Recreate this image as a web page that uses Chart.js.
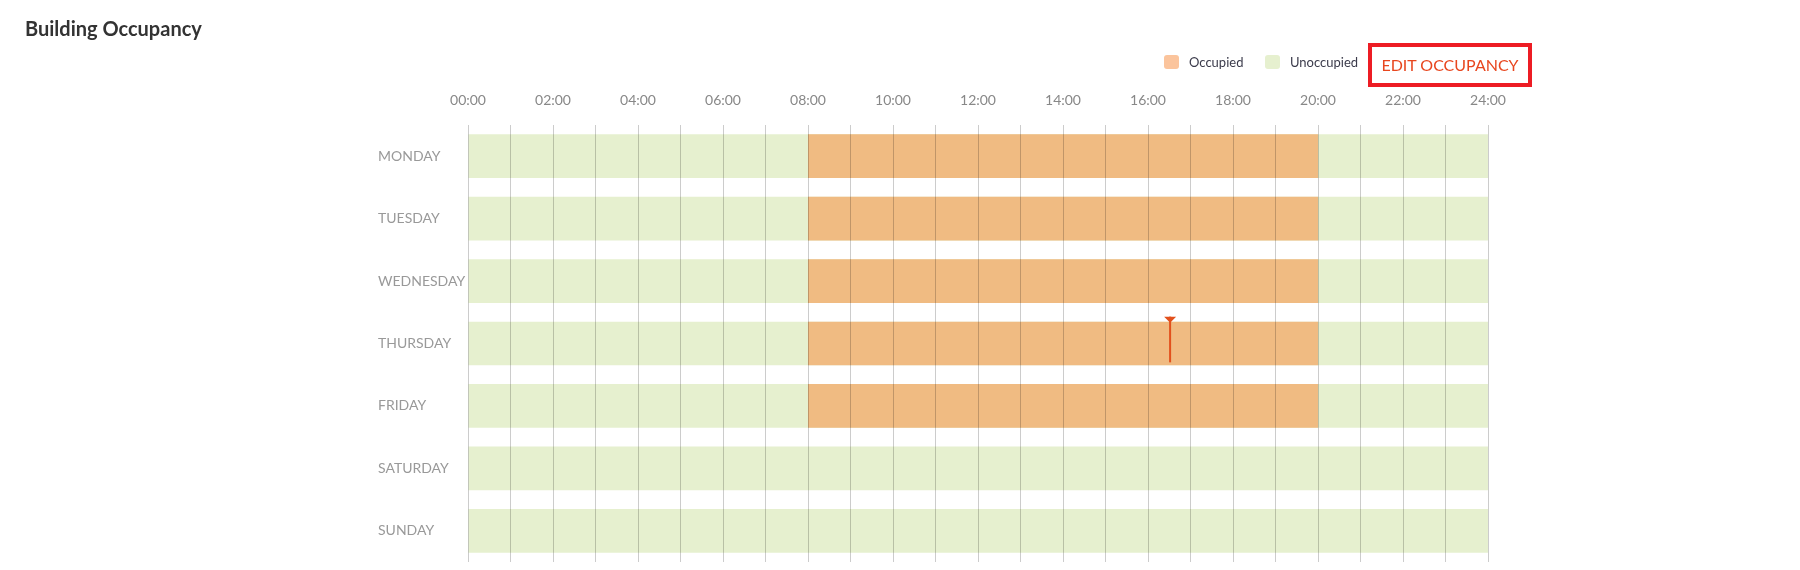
<!DOCTYPE html>
<html>
<head>
<meta charset="utf-8">
<script src="https://cdn.jsdelivr.net/npm/chart.js@4/dist/chart.umd.min.js"></script>
<style>
  body { margin: 0; background: #fff; font-family: Lato, "Open Sans", sans-serif; }
  #wrap { position: relative; width: 1800px; height: 570px; }
  #chart { position: absolute; left: 0; top: 0; }
  .title { position: absolute; left: 25px; top: 18px; font-size: 20px; line-height: 1; font-weight: bold; color: #333; }
  .legend { position: absolute; top: 55px; font-size: 13px; line-height: 14px; color: #3b3b4b; }
  .legend span.sw { display: inline-block; width: 15px; height: 14px; border-radius: 3px; vertical-align: top; margin-right: 10px; }
  .btn { position: absolute; left: 1368px; top: 43px; width: 156px; height: 36px; border: 4px solid #ed1c24;
         color: #e8461e; font-size: 16px; line-height: 36px; text-align: center; }
</style>
</head>
<body>
<div id="wrap">
  <canvas id="chart" width="1800" height="570"></canvas>
  <div class="title">Building Occupancy</div>
  <div class="legend" style="left:1164px"><span class="sw" style="background:#fbc49c"></span>Occupied</div>
  <div class="legend" style="left:1265px"><span class="sw" style="background:#e6f0cf"></span>Unoccupied</div>
  <div class="btn">EDIT OCCUPANCY</div>
</div>
<script>
// rows and schedule
const days = ['MONDAY', 'TUESDAY', 'WEDNESDAY', 'THURSDAY', 'FRIDAY', 'SATURDAY', 'SUNDAY'];
const occupied = [[8, 20], [8, 20], [8, 20], [8, 20], [8, 20], null, null];
const unoccupied = [[0, 24], [0, 24], [0, 24], [0, 24], [0, 24], [0, 24], [0, 24]];
const hourTicks = [0, 2, 4, 6, 8, 10, 12, 14, 16, 18, 20, 22, 24];
// current time marker
const nowDay = 'THURSDAY';
const nowHour = 16.52;

const pad = (n) => (n < 10 ? '0' : '') + n;

// draws the little "now" marker on top of the bars
const nowMarker = {
  id: 'nowMarker',
  afterDraw(chart) {
    const ctx = chart.ctx;
    const x = chart.scales.x.getPixelForValue(nowHour);
    const idx = days.indexOf(nowDay);
    const meta = chart.getDatasetMeta(0);
    const bar = meta.data[idx];
    const half = bar.height / 2;
    const top = bar.y - half - 5;
    const bottom = bar.y + half - 3;
    ctx.save();
    ctx.strokeStyle = '#e2501c';
    ctx.fillStyle = '#e2501c';
    ctx.lineWidth = 2;
    ctx.beginPath();
    ctx.moveTo(x, top);
    ctx.lineTo(x, bottom);
    ctx.stroke();
    ctx.beginPath();
    ctx.moveTo(x - 6, top);
    ctx.lineTo(x + 6, top);
    ctx.lineTo(x, top + 6);
    ctx.closePath();
    ctx.fill();
    ctx.restore();
  }
};

new Chart(document.getElementById('chart'), {
  type: 'bar',
  data: {
    labels: days,
    datasets: [
      {
        label: 'Occupied',
        data: occupied,
        backgroundColor: '#f0bb82',
        order: 0,
      },
      {
        label: 'Unoccupied',
        data: unoccupied,
        backgroundColor: '#e6f0cf',
        order: 1,
      }
    ]
  },
  options: {
    indexAxis: 'y',
    responsive: false,
    animation: false,
    grouped: false,
    categoryPercentage: 0.7,
    barPercentage: 1,
    layout: { padding: { left: 378, right: 312, top: 80, bottom: 8 } },
    plugins: {
      legend: { display: false },
      tooltip: { enabled: false }
    },
    scales: {
      x: {
        position: 'top',
        min: 0,
        max: 24,
        afterFit: (scale) => { scale.height = 45; },
        afterBuildTicks: (scale) => {
          scale.ticks = [];
          for (let h = 0; h <= 24; h++) scale.ticks.push({ value: h });
        },
        ticks: {
          autoSkip: false,
          maxRotation: 0,
          padding: 16,
          color: '#888',
          font: { family: 'Lato', size: 14 },
          callback: (v) => hourTicks.includes(v) ? pad(v) + ':00' : ''
        },
        grid: { color: 'rgba(0,0,0,0.2)', drawTicks: false, z: 1 },
        border: { display: false }
      },
      y: {
        afterFit: (scale) => {
          scale.width = 90;
          scale.paddingTop = 0;
          scale.paddingBottom = 0;
        },
        ticks: {
          crossAlign: 'far',
          color: '#999',
          font: { family: 'Lato', size: 14 }
        },
        grid: { display: false },
        border: { display: false }
      }
    }
  },
  plugins: [nowMarker]
});
</script>
</body>
</html>
